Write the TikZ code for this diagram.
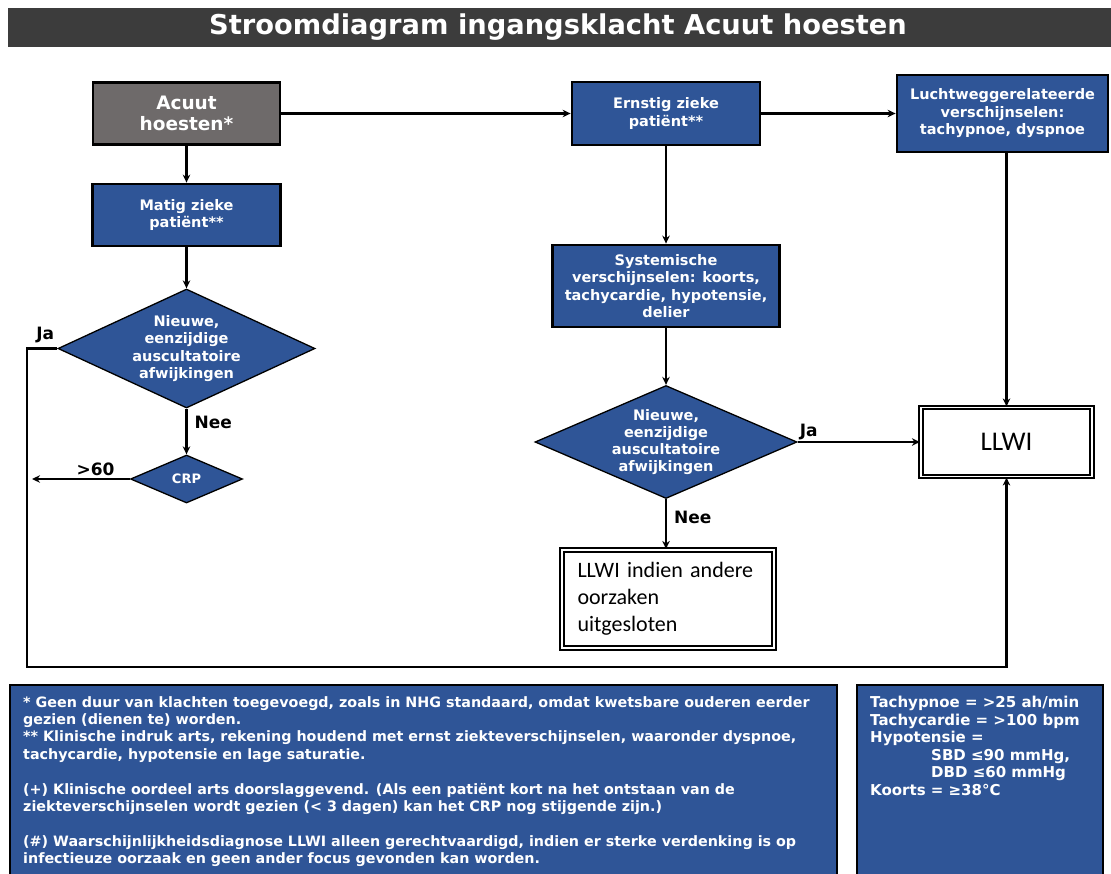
\documentclass[tikz,border=0pt]{standalone}
\usepackage{fontspec}
\usepackage{graphicx}
\setmainfont{DejaVu Sans}
\newfontfamily\calfont{Carlito}
\usetikzlibrary{shapes.geometric,arrows.meta}

\definecolor{blok}{HTML}{2F5597}
\definecolor{grijs}{HTML}{6E6A6A}
\definecolor{balk}{HTML}{3C3C3C}

\begin{document}
\begin{tikzpicture}[x=1pt,y=-1pt,>={Stealth[length=8pt,width=7.5pt]},
    box/.style={draw=black,line width=2.8pt,fill=blok,text=white,align=center,inner sep=0pt,
      font=\bfseries\fontsize{14.5}{17.5}\selectfont},
    ruit/.style={diamond,draw=black,line width=1.3pt,fill=blok,inner sep=0pt},
    ruittekst/.style={text=white,align=center,inner sep=0pt,
      font=\bfseries\fontsize{14.5}{17.3}\selectfont},
    dubbel/.style={draw=black,line width=2.2pt,double=white,double distance=1.2pt,fill=white,inner sep=0pt},
    pijl/.style={->,line width=2.4pt},
    lbl/.style={font=\bfseries\fontsize{17}{17}\selectfont,text=black,inner sep=1pt},
    voet/.style={draw=black,line width=2.8pt,fill=blok}]
  \useasboundingbox (0,0) rectangle (1111,873);
  %% title bar
  \fill[balk] (8,8) rectangle (1111,47);
  \node[text=white,font=\bfseries\fontsize{27.3}{27}\selectfont] (0) at (558,27.5)
    {Stroomdiagram ingangsklacht Acuut hoesten};
  %% left column
  \node[box,fill=grijs,minimum width=187pt,minimum height=62pt,
    font=\bfseries\fontsize{18.5}{21}\selectfont] (1) at (186.5,113.5) {Acuut\\hoesten*};
  \node[box,minimum width=188pt,minimum height=62pt] (2) at (186.5,215) {Matig zieke\\patiënt**};
  \node[ruit,minimum width=257pt,minimum height=119pt] (3) at (186.5,348.5) {};
  \node[ruittekst] (3t) at (3) {Nieuwe,\\eenzijdige\\auscultatoire\\afwijkingen};
  \node[ruit,minimum width=112pt,minimum height=48pt] (4) at (186.5,479) {};
  \node[ruittekst,font=\bfseries\fontsize{13}{13}\selectfont] (4t) at (4) {CRP};
  %% middle column
  \node[box,minimum width=188pt,minimum height=63pt] (5) at (666,113.5) {Ernstig zieke\\patiënt**};
  \node[box,minimum width=227pt,minimum height=82pt] (6) at (666,286)
    {Systemische\\verschijnselen: koorts,\\tachycardie, hypotensie,\\delier};
  \node[ruit,minimum width=262pt,minimum height=113pt] (7) at (666,442) {};
  \node[ruittekst] (7t) at (7) {Nieuwe,\\eenzijdige\\auscultatoire\\afwijkingen};
  \node[dubbel,minimum width=212pt,minimum height=98pt,text width=181pt,align=left,
    font=\calfont\fontsize{22}{27}\selectfont] (8) at (668,599)
    {LLWI indien andere\\oorzaken\\uitgesloten};
  %% right column
  \node[box,minimum width=211pt,minimum height=77pt] (9) at (1002.5,113.5)
    {Luchtweggerelateerde\\verschijnselen:\\tachypnoe, dyspnoe};
  \node[dubbel,minimum width=171pt,minimum height=69pt,
    font=\calfont\fontsize{27}{27}\selectfont] (10) at (1006.5,442) {LLWI};
  %% free ends
  \coordinate (11) at (27,667);
  \coordinate (12) at (32,479);
  %% Horizontal arrows
  \draw[pijl] (1) -- (5);
  \draw[pijl] (5) -- (9);
  \draw[pijl] (7.east) -- node[lbl,pos=0,above right]{Ja} (10);
  \draw[pijl] (4.west) -- node[lbl,pos=0.35,above=1pt]{>60} (12);
  %% Vertical arrows
  \draw[pijl] (1) -- (2);
  \draw[pijl] (2) -- (3.north);
  \draw[pijl] (3.south) -- node[lbl,pos=0.3,right=6pt]{Nee} (4.north);
  \draw[pijl] (5) -- (6);
  \draw[pijl] (6) -- (7.north);
  \draw[pijl] (7.south) -- node[lbl,pos=0.37,right=6pt]{Nee} (7.south |- 8.north);
  \draw[pijl] (9.south -| 10.north) -- (10.north);
  %% Ja loop to LLWI
  \draw[pijl] (3.west) -- node[lbl,pos=0.4,above=3pt]{Ja} (3.west -| 11) -- (11) -| (10.south);
  %% footnotes
  \draw[voet] (10,685) rectangle (837,880);
  \node[anchor=north west,text=white,align=left,inner sep=0pt,
    font=\bfseries\fontsize{14.3}{17.4}\selectfont] (13) at (23,696)
    {* Geen duur van klachten toegevoegd, zoals in NHG standaard, omdat kwetsbare ouderen eerder\\
     gezien (dienen te) worden.\\
     ** Klinische indruk arts, rekening houdend met ernst ziekteverschijnselen, waaronder dyspnoe,\\
     tachycardie, hypotensie en lage saturatie.\\[17.4pt]
     (+) Klinische oordeel arts doorslaggevend. (Als een patiënt kort na het ontstaan van de\\
     ziekteverschijnselen wordt gezien (< 3 dagen) kan het CRP nog stijgende zijn.)\\[17.4pt]
     (\#) Waarschijnlijkheidsdiagnose LLWI alleen gerechtvaardigd, indien er sterke verdenking is op\\
     infectieuze oorzaak en geen ander focus gevonden kan worden.};
  \draw[voet] (857,685) rectangle (1103,880);
  \node[anchor=north west,text=white,align=left,inner sep=0pt,
    font=\bfseries\fontsize{15}{17.5}\selectfont] (14) at (870,696)
    {Tachypnoe = >25 ah/min\\
     Tachycardie = >100 bpm\\
     Hypotensie =\\
     \hspace*{61pt}SBD ≤90 mmHg,\\
     \hspace*{61pt}DBD ≤60 mmHg\\
     Koorts = ≥38°C};
\end{tikzpicture}
\end{document}
